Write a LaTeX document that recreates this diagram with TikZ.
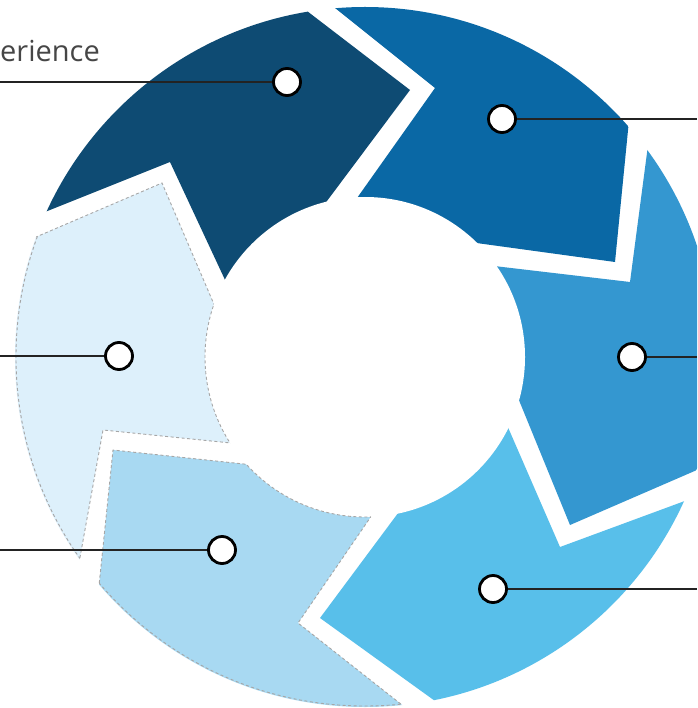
\documentclass[tikz,border=0pt]{standalone}
\usepackage{fontspec}
\setmainfont{Open Sans}
\definecolor{cN}{RGB}{14,75,115}
\definecolor{cB}{RGB}{10,104,165}
\definecolor{cR}{RGB}{52,151,208}
\definecolor{cLR}{RGB}{88,191,234}
\definecolor{cLL}{RGB}{168,217,242}
\definecolor{cL}{RGB}{221,240,251}
\definecolor{txt}{RGB}{70,70,70}
\definecolor{conncol}{RGB}{35,35,35}
\begin{document}
\begin{tikzpicture}[x=1pt,y=-1pt,
  dot/.style={circle,draw=black,line width=2.8pt,fill=white,minimum size=27pt,inner sep=0pt},
  conn/.style={draw=conncol,line width=2pt},
  outl/.style={draw=black!35,line width=0.9pt,dash pattern=on 3pt off 2.5pt},
  pN/.style={insert path={(25,220) -- (170,162) -- (240,312) -- (365,357) -- (315,217) -- (410,90) -- (290,-2) -- (200,-150) -- (-150,100) -- cycle}},
  pB/.style={insert path={(320,-4) -- (435,88) -- (345,215) -- (365,357) -- (440,238) -- (615,262) -- (630,110) -- (750,-50) -- (350,-200) -- cycle}},
  pR/.style={insert path={(650,130) -- (630,282) -- (460,262) -- (365,357) -- (505,366) -- (570,525) -- (720,460) -- (900,350) -- (800,50) -- cycle}},
  pLR/.style={insert path={(720,488) -- (560,547) -- (497,402) -- (365,357) -- (410,497) -- (320,618) -- (460,719) -- (700,900) -- (900,600) -- cycle}},
  pLL/.style={insert path={(97,605) -- (113,450) -- (300,470) -- (365,357) -- (385,496) -- (298,623) -- (430,727) -- (200,850) -- (-100,650) -- cycle}},
  pL/.style={insert path={(75,585) -- (103,430) -- (290,449) -- (365,357) -- (225,330) -- (162,183) -- (15,246) -- (-200,200) -- (-200,560) -- cycle}}
]
\useasboundingbox (0,0) rectangle (697,708);
\fill[white] (0,0) rectangle (697,708);
\clip (0,0) rectangle (697,708);
\coordinate (C) at (365,357);
% ring pieces
\begin{scope}
  \clip (C) circle[radius=350pt];
  \fill[cN,pN];
  \fill[cB,pB];
  \fill[cR,pR];
  \fill[cLR,pLR];
  \fill[cLL,pLL];
  \fill[cL,pL];
  \path[outl,pLL];
  \path[outl,pL];
\end{scope}
\fill[white] (C) circle[radius=160pt];
\begin{scope}
  \clip[pL];
  \draw[outl] (C) circle[radius=349pt];
  \draw[outl] (C) circle[radius=160pt];
\end{scope}
\begin{scope}
  \clip[pLL];
  \draw[outl] (C) circle[radius=349pt];
  \draw[outl] (C) circle[radius=160pt];
\end{scope}
% ends of connectors
\coordinate (eN) at (0,82);
\coordinate (eB) at (697,119);
\coordinate (eR) at (697,357);
\coordinate (eLR) at (697,589);
\coordinate (eLL) at (0,550);
\coordinate (eL) at (0,356);
% dots
\node[dot] (dN) at (287,82) {};
\node[dot] (dB) at (502,119) {};
\node[dot] (dR) at (632,357) {};
\node[dot] (dLR) at (493,589) {};
\node[dot] (dLL) at (222,550) {};
\node[dot] (dL) at (119,356) {};
% connectors
\draw[conn] (dN.west) -- (eN);
\draw[conn] (dB.east) -- (eB);
\draw[conn] (dR.east) -- (eR);
\draw[conn] (dLR.east) -- (eLR);
\draw[conn] (dLL.west) -- (eLL);
\draw[conn] (dL.west) -- (eL);
% text
\node[anchor=base west,inner sep=0pt,text=txt,font=\fontsize{29}{34}\selectfont] (tN) at (0,62) {erience};
\end{tikzpicture}
\end{document}
